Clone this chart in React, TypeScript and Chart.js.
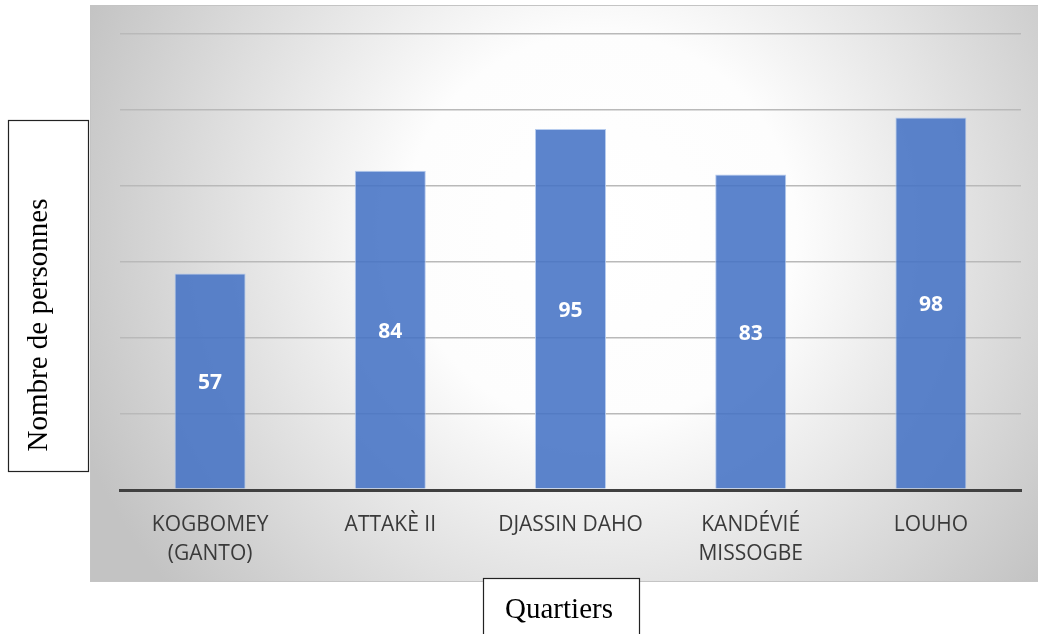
import React, { useEffect, useRef } from "react";
import { Chart, registerables } from "chart.js";

Chart.register(...registerables);

const categories: (string | string[])[] = [
  ["KOGBOMEY", "(GANTO)"],
  "ATTAKÈ II",
  "DJASSIN DAHO",
  ["KANDÉVIÉ", "MISSOGBE"],
  "LOUHO",
];
const values = [57, 84, 95, 83, 98];
const yMin = 0;
const yMax = 120;
const yStep = 20;
const yTitle = "Nombre de personnes";
const xTitle = "Quartiers";

const W = 1038;
const H = 634;

const backgroundPlugin = {
  id: "panelBackground",
  beforeDraw(chart: any) {
    const ctx = chart.ctx;
    ctx.save();
    const px = 90, py = 5, pw = 948, ph = 577;
    const g = ctx.createRadialGradient(600, 230, 0, 600, 230, 560);
    g.addColorStop(0, "#ffffff");
    g.addColorStop(0.35, "#fdfdfd");
    g.addColorStop(1, "#c3c3c3");
    ctx.fillStyle = g;
    ctx.fillRect(px, py, pw, ph);
    ctx.strokeStyle = "#c4c4c4";
    ctx.lineWidth = 1;
    ctx.strokeRect(px + 0.5, py + 0.5, pw, ph - 1);
    ctx.restore();
  },
};

const labelsPlugin = {
  id: "barValueLabels",
  afterDatasetsDraw(chart: any) {
    const ctx = chart.ctx;
    const meta = chart.getDatasetMeta(0);
    ctx.save();
    ctx.font = "bold 21px 'Open Sans'";
    ctx.fillStyle = "#ffffff";
    ctx.textAlign = "center";
    ctx.textBaseline = "middle";
    meta.data.forEach((bar: any, i: number) => {
      const v = chart.data.datasets[0].data[i];
      ctx.fillText(String(v), bar.x, (bar.y + bar.base) / 2 + 2);
    });
    ctx.restore();
  },
};

const titlesPlugin = {
  id: "boxedTitles",
  afterDraw(chart: any) {
    const ctx = chart.ctx;
    ctx.save();
    // Y title box
    ctx.fillStyle = "#ffffff";
    ctx.fillRect(8, 120, 81, 352);
    ctx.strokeStyle = "#222222";
    ctx.lineWidth = 1.2;
    ctx.strokeRect(8.5, 120.5, 80, 351);
    ctx.fillStyle = "#000000";
    ctx.font = "29px 'Liberation Serif'";
    ctx.textAlign = "center";
    ctx.textBaseline = "alphabetic";
    ctx.save();
    ctx.translate(47, 325);
    ctx.rotate(-Math.PI / 2);
    ctx.fillText(yTitle, 0, 0);
    ctx.restore();
    // X title box
    ctx.fillStyle = "#ffffff";
    ctx.fillRect(483, 578, 157, 60);
    ctx.strokeStyle = "#222222";
    ctx.strokeRect(483.5, 578.5, 156, 60);
    ctx.fillStyle = "#000000";
    ctx.font = "29px 'Liberation Serif'";
    ctx.fillText(xTitle, 559, 618);
    ctx.restore();
  },
};

export default function App() {
  const canvasRef = useRef<HTMLCanvasElement | null>(null);

  useEffect(() => {
    document.body.style.margin = "0";
    const canvas = canvasRef.current;
    if (!canvas) return;
    const chart = new Chart(canvas, {
      type: "bar",
      data: {
        labels: categories as any,
        datasets: [
          {
            data: values,
            backgroundColor: "rgba(68,114,196,0.87)",
            borderColor: "rgba(175,198,236,0.9)",
            borderWidth: 1,
            barPercentage: 0.394,
            categoryPercentage: 1,
          },
        ],
      },
      options: {
        responsive: false,
        animation: false,
        devicePixelRatio: 1,
        layout: { padding: { left: 0, right: 17, top: 34, bottom: 0 } },
        plugins: {
          legend: { display: false },
          tooltip: { enabled: false },
          title: { display: false },
        },
        scales: {
          x: {
            grid: { display: false },
            border: { display: true, color: "#404040", width: 3 },
            ticks: {
              color: "#3a3a3a",
              font: { family: "'Open Sans'", size: 21, lineHeight: 1.4 },
              padding: 12,
              maxRotation: 0,
              autoSkip: false,
            },
            afterFit: (scale: any) => {
              scale.height = 144;
            },
          },
          y: {
            min: yMin,
            max: yMax,
            ticks: { display: false, stepSize: yStep },
            border: { display: false },
            grid: {
              drawTicks: false,
              color: (c: any) => (c.tick && c.tick.value === 0 ? "#404040" : "#b9b9b9"),
              lineWidth: (c: any) => (c.tick && c.tick.value === 0 ? 3 : 1.5),
            },
            afterFit: (scale: any) => {
              scale.width = 120;
            },
          },
        },
      },
      plugins: [backgroundPlugin, labelsPlugin, titlesPlugin],
    });
    return () => chart.destroy();
  }, []);

  return (
    <div style={{ position: "absolute", left: 0, top: 0, width: W, height: H }}>
      <canvas ref={canvasRef} width={W} height={H} style={{ width: W, height: H, display: "block" }} />
    </div>
  );
}
